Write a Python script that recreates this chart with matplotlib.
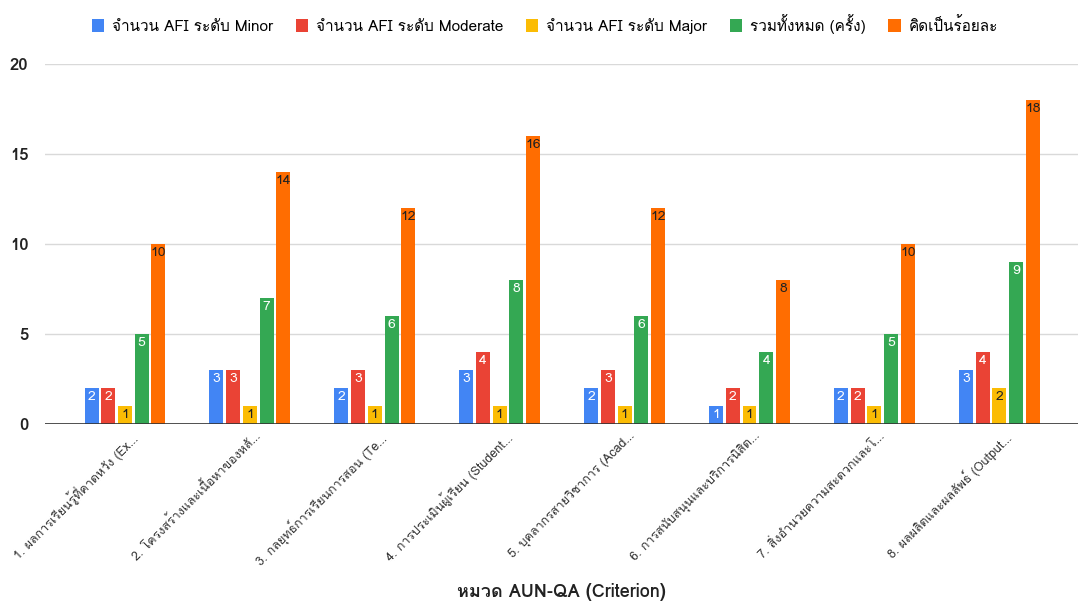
import numpy as np
import matplotlib
matplotlib.use("Agg")
from matplotlib import pyplot as plt
from matplotlib import font_manager

categories = [
    "1. ผลการเรียนรู้ที่คาดหวัง (Ex…",
    "2. โครงสร้างและเนื้อหาของหลั…",
    "3. กลยุทธ์การเรียนการสอน (Te…",
    "4. การประเมินผู้เรียน (Student…",
    "5. บุคลากรสายวิชาการ (Acad…",
    "6. การสนับสนุนและบริการนิสิต…",
    "7. สิ่งอำนวยความสะดวกและโ…",
    "8. ผลผลิตและผลลัพธ์ (Output…",
]
series_names = [
    "จำนวน AFI ระดับ Minor",
    "จำนวน AFI ระดับ Moderate",
    "จำนวน AFI ระดับ Major",
    "รวมทั้งหมด (ครั้ง)",
    "คิดเป็นร้อยละ",
]
minor = [2, 3, 2, 3, 2, 1, 2, 3]
moderate = [2, 3, 3, 4, 3, 2, 2, 4]
major = [1, 1, 1, 1, 1, 1, 1, 2]
total = [5, 7, 6, 8, 6, 4, 5, 9]
percent = [10, 14, 12, 16, 12, 8, 10, 18]
y_ticks = [0, 5, 10, 15, 20]

colors = ["#4285F4", "#EA4335", "#FBBC04", "#34A853", "#FF6D01"]
label_colors = ["white", "white", "#222222", "white", "#222222"]

# look for a font that can draw Thai
thai_fonts = [f.name for f in font_manager.fontManager.ttflist
              if any(k in f.name for k in ("Thai", "Loma", "Garuda", "Sarabun", "Tlwg", "Kinnari", "Norasi"))]
families = thai_fonts[:1] + ["Roboto", "DejaVu Sans"]
plt.rcParams["font.family"] = families

fig = plt.figure(figsize=(10.79, 6.03), dpi=100)
ax = fig.add_axes([45 / 1079, 1 - 424 / 603, (1078 - 45) / 1079, (424 - 64) / 603])

x = np.arange(len(categories))
pitch = 0.134
width = 0.112
data = [minor, moderate, major, total, percent]
for i, vals in enumerate(data):
    pos = x + (i - 2) * pitch
    bars = ax.bar(pos, vals, width=width, color=colors[i], label=series_names[i], zorder=3)
    for b, v in zip(bars, vals):
        ax.text(b.get_x() + b.get_width() / 2, v - 0.15, str(v), ha="center", va="top",
                fontsize=10, color=label_colors[i], zorder=4)

ax.set_xlim((45 - 125) / 124.9, (1078 - 125) / 124.9)
ax.set_ylim(0, 20)
ax.set_yticks(y_ticks)
ax.set_yticklabels([str(t) for t in y_ticks], fontsize=12, fontweight="bold", color="#222222")
ax.grid(axis="y", color="#d9d9d9", linewidth=1, zorder=0)
ax.axhline(0, color="#333333", linewidth=1.2, zorder=5)
for s in ax.spines.values():
    s.set_visible(False)
ax.tick_params(axis="y", length=0, pad=12)
ax.tick_params(axis="x", length=0, pad=4)
ax.set_xticks(x + 0.03)
ax.set_xticklabels(categories, rotation=45, ha="right", rotation_mode="anchor",
                   fontsize=9, color="#333333")

fig.text(0.52, 1 - 592 / 603, "หมวด AUN-QA (Criterion)", ha="center", va="center",
         fontsize=13, fontweight="bold", color="#222222")

fig.legend(loc="upper center", bbox_to_anchor=(0.505, 1.0), ncol=5, frameon=False,
           fontsize=11, handlelength=0.8, handleheight=0.9, columnspacing=1.5, handletextpad=0.5)

fig.savefig("out.png", dpi=100)
